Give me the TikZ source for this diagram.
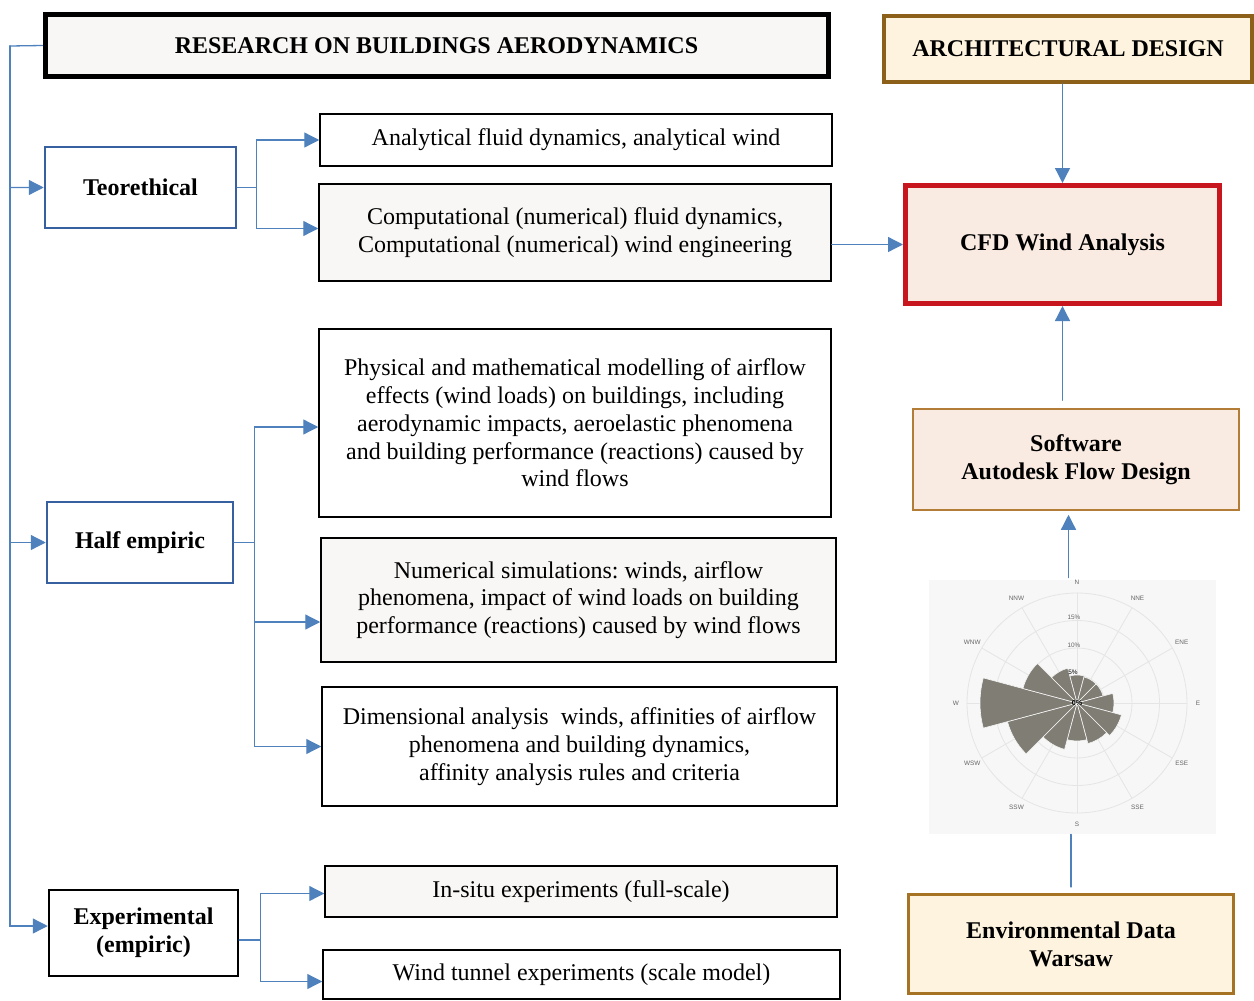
\documentclass[tikz,border=0pt]{standalone}
\usepackage{fontspec}
\setmainfont{Liberation Serif}
\newfontfamily\rosefont{Liberation Sans}
\usetikzlibrary{arrows.meta}
\frenchspacing

\definecolor{linkblue}{RGB}{79,129,189}
\definecolor{boxblue}{RGB}{54,96,160}
\definecolor{paper}{RGB}{248,247,245}
\definecolor{cream}{RGB}{253,243,222}
\definecolor{blush}{RGB}{249,235,226}
\definecolor{archbrown}{RGB}{140,96,24}
\definecolor{softbrown}{RGB}{180,125,55}
\definecolor{envbrown}{RGB}{165,115,35}
\definecolor{cfdred}{RGB}{200,22,30}
\definecolor{rosebg}{RGB}{247,247,247}
\definecolor{petalgray}{RGB}{128,125,116}

\newcommand{\petal}[2]{
  \filldraw[fill = petalgray, draw = rosebg, line width = 0.3pt] (0, 0) -- (#1-15:#2) arc[start angle = #1-15, end angle = #1+15, radius = #2] -- cycle;
}

\begin{document}
\begin{tikzpicture}[x = 0.5pt, y = -0.5pt, line cap = round,
  box/.style = {draw, line width = 0.75pt, align = center, inner sep = 0pt,
    font = \fontsize{12}{13.9}\selectfont},
  title/.style = {box, font = \fontsize{12}{13.9}\selectfont\bfseries},
  branch/.style = {title, draw = boxblue, line width = 1.25pt, fill = white},
  link/.style = {draw = linkblue, line width = 0.65pt, -{Triangle[length = 7.5pt, width = 7.5pt]}},
  wire/.style = {draw = linkblue, line width = 0.65pt},
  grid/.style = {draw = black!10, line width = 0.4pt},
  compass/.style = {inner sep = 0pt, text = black!60, font = \rosefont\fontsize{3.2}{3.5}\selectfont}]
  \useasboundingbox (0, 0) rectangle (1254, 1001);

  % left column and its branches
  \node[title, line width = 2.5pt, fill = paper, minimum width = 391.5pt, minimum height = 31pt] (research) at (436.5, 45.5) {RESEARCH ON BUILDINGS AERODYNAMICS};
  \node[branch, minimum width = 95.5pt, minimum height = 40.5pt] (teo) at (140.5, 187.5) {Teorethical};
  \node[branch, minimum width = 93pt, minimum height = 40.5pt] (half) at (140, 542.5) {Half empiric};
  \node[title, line width = 1.25pt, fill = white, minimum width = 94.5pt, minimum height = 43pt] (exper) at (143.5, 933) {Experimental\\ (empiric)};

  \node[box, fill = white, minimum width = 256pt, minimum height = 26pt] (ana) at (576, 140) {Analytical fluid dynamics, analytical wind};
  \node[box, fill = paper, minimum width = 256pt, minimum height = 48.5pt] (comp) at (575, 232.5) {Computational (numerical) fluid dynamics,\\ Computational (numerical) wind engineering};
  \node[box, fill = white, minimum width = 256pt, minimum height = 94pt] (phys) at (575, 423) {Physical and mathematical modelling of airflow\\ effects (wind loads) on buildings, including\\ aerodynamic impacts, aeroelastic phenomena\\ and building performance (reactions) caused by\\ wind flows};
  \node[box, fill = paper, minimum width = 257.5pt, minimum height = 62pt] (num) at (578.5, 600) {Numerical simulations: winds, airflow\\ phenomena, impact of wind loads on building\\ performance (reactions) caused by wind flows};
  \node[box, fill = white, minimum width = 257.5pt, minimum height = 59.5pt] (dim) at (579.5, 746.5) {Dimensional analysis\ \ winds, affinities of airflow\\ phenomena and building dynamics,\\ affinity analysis rules and criteria};
  \node[box, fill = paper, minimum width = 256pt, minimum height = 25.5pt] (situ) at (581, 891.5) {In-situ experiments (full-scale)};
  \node[box, fill = white, minimum width = 258.5pt, minimum height = 24.5pt] (tunnel) at (581.5, 974.5) {Wind tunnel experiments (scale model)};

  % right column
  \node[title, draw = archbrown, line width = 2pt, fill = cream, minimum width = 184pt, minimum height = 33pt] (arch) at (1068, 49) {ARCHITECTURAL DESIGN};
  \node[title, draw = cfdred, line width = 2.5pt, fill = blush, minimum width = 157pt, minimum height = 59pt] (cfd) at (1062.5, 244.5) {CFD Wind Analysis};
  \node[title, draw = softbrown, fill = blush, minimum width = 163pt, minimum height = 50.5pt] (soft) at (1076, 459.5) {Software\\ Autodesk Flow Design};
  \node[fill = rosebg, inner sep = 0pt, minimum width = 143.5pt, minimum height = 127pt] (rose) at (1072.5, 707) {};
  \node[title, draw = envbrown, line width = 1.5pt, fill = cream, minimum width = 162.5pt, minimum height = 49.5pt] (env) at (1071, 944) {Environmental Data\\ Warsaw};

  % wind rose
  \begin{scope}[shift = {(1077, 703)}, yscale = -1]
    \foreach \r in {27.5, 55, 82.5, 110}
      \draw[grid] (0, 0) circle[radius = \r];
    \foreach \a in {0, 30, ..., 330}
      \draw[grid] (0, 0) -- (\a:110);
    \foreach \a/\r in {90/28, 60/27, 30/27, 0/37, -30/46, -60/42, -90/38, -120/48, -150/72, 180/97, 150/56, 120/36}
      {\petal{\a}{\r}}
    \foreach \a/\t in {90/N, 60/NNE, 30/ENE, 0/E, -30/ESE, -60/SSE, -90/S, -120/SSW, -150/WSW, 180/W, 150/WNW, 120/NNW}
      \node[compass] (lbl\t) at (\a:121) {\t};
    \node[compass] (pct15) at (-3, 86) {15\%};
    \node[compass] (pct10) at (-3, 58) {10\%};
    \node[compass, text = black] (pct5) at (-4, 31) {5\%};
    \node[compass, text = black, font = \rosefont\bfseries\fontsize{3.6}{4}\selectfont] (pct0) at (0, 0) {0\%};
  \end{scope}

  % connectors
  \coordinate (trunk) at (10, 46);
  \draw[link] (research.west) -- (trunk) |- (teo.west);
  \draw[link] (trunk) |- (half.west);
  \draw[link] (trunk) |- ([yshift = 3.5pt]exper.west);

  \draw[link] (teo.east) -- ++(19, 0) |- (ana.west);
  \draw[link] (teo.east) -- ++(19, 0) |- ([yshift = 2pt]comp.west);

  \draw[link] (half.east) -- ++(20, 0) |- ([yshift = -2pt]phys.west);
  \draw[link] (half.east) -- ++(20, 0) |- ([yshift = -11pt]num.west);
  \draw[link] (half.east) -- ++(20, 0) |- (dim.west);

  \draw[link] ([yshift = -3.5pt]exper.east) -- ++(21, 0) |- ([yshift = -1pt]situ.west);
  \draw[link] ([yshift = -3.5pt]exper.east) -- ++(21, 0) |- ([yshift = -3.5pt]tunnel.west);

  \draw[link] (comp.east |- cfd.west) -- (cfd.west);
  \draw[link] (arch.south -| cfd.north) -- (cfd.north);
  \draw[link, shorten <= 4pt] (soft.north -| cfd.south) -- (cfd.south);
  \draw[link, shorten <= 1pt, shorten >= 2pt] ([xshift = -2pt]rose.north) -- ([xshift = -2pt]rose.north |- soft.south);
  \draw[wire, shorten <= 3pt] (env.north) -- (env.north |- rose.south);
\end{tikzpicture}
\end{document}
